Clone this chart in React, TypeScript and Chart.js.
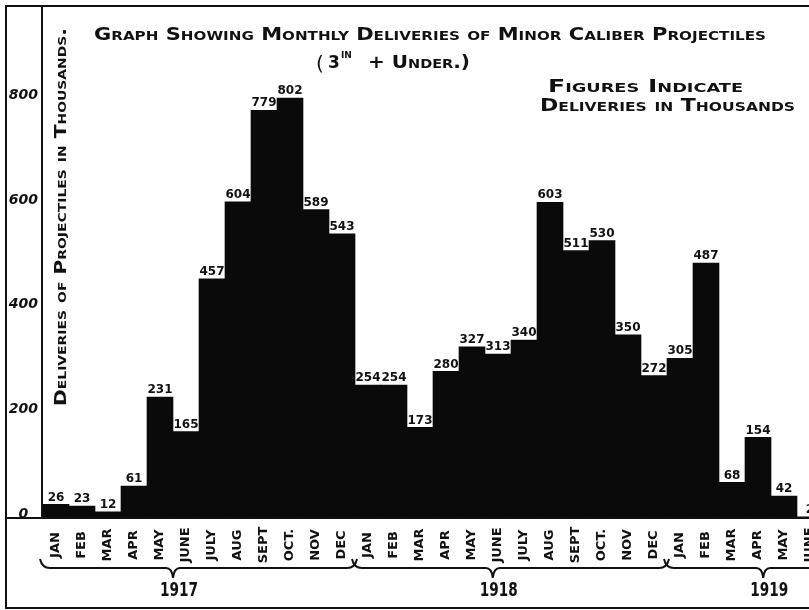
import React, { useEffect, useRef } from "react";
import { Chart, registerables } from "chart.js";

Chart.register(...registerables);

// ---- data ----
const monthLabels = [
  "JAN", "FEB", "MAR", "APR", "MAY", "JUNE", "JULY", "AUG", "SEPT", "OCT.", "NOV", "DEC",
  "JAN", "FEB", "MAR", "APR", "MAY", "JUNE", "JULY", "AUG", "SEPT", "OCT.", "NOV", "DEC",
  "JAN", "FEB", "MAR", "APR", "MAY", "JUNE",
];
const deliveries = [
  26, 23, 12, 61, 231, 165, 457, 604, 779, 802, 589, 543,
  254, 254, 173, 280, 327, 313, 340, 603, 511, 530, 350, 272,
  305, 487, 68, 154, 42, 2,
];
const yearLabels = ["1917", "1918", "1919"];
const yearFirstIndex = [0, 12, 24];
const yearLastIndex = [11, 23, 35];
const braceTipIndex = [4.5, 16.8, 27.2];
const yTickValues = [0, 200, 400, 600, 800];

const titleLine1 = "Graph Showing Monthly Deliveries of Minor Caliber Projectiles";
const noteLine1 = "Figures Indicate";
const noteLine2 = "Deliveries in Thousands";
const yAxisTitle = "Deliveries of Projectiles in Thousands.";

const FONT = '"DejaVu Sans", sans-serif';

function fitText(
  ctx: CanvasRenderingContext2D,
  text: string,
  x: number,
  y: number,
  width: number,
  font: string,
  align: CanvasTextAlign,
  smallCaps: boolean,
  rotate = 0,
  baseline: CanvasTextBaseline = "alphabetic"
) {
  ctx.save();
  ctx.font = font;
  if (smallCaps) (ctx as any).fontVariantCaps = "small-caps";
  const w = ctx.measureText(text).width || 1;
  const sx = width / w;
  ctx.translate(x, y);
  if (rotate) ctx.rotate(rotate);
  ctx.scale(sx, 1);
  ctx.textAlign = align;
  ctx.textBaseline = baseline;
  ctx.fillStyle = "#111";
  ctx.fillText(text, 0, 0);
  ctx.restore();
}

const decorPlugin = {
  id: "decor",
  beforeDraw(chart: any) {
    const ctx = chart.ctx as CanvasRenderingContext2D;
    ctx.save();
    ctx.fillStyle = "#fff";
    ctx.fillRect(0, 0, chart.width, chart.height);
    ctx.restore();
  },
  afterDraw(chart: any) {
    const ctx = chart.ctx as CanvasRenderingContext2D;
    const xScale = chart.scales.x;
    const area = chart.chartArea;
    const W = chart.width;

    // frame
    ctx.save();
    ctx.strokeStyle = "#111";
    ctx.lineWidth = 2;
    ctx.beginPath();
    ctx.moveTo(5, 6); ctx.lineTo(W, 6);
    ctx.moveTo(6, 5); ctx.lineTo(6, 609);
    ctx.moveTo(42, 6); ctx.lineTo(42, area.bottom);
    ctx.moveTo(6, area.bottom); ctx.lineTo(W, area.bottom);
    ctx.moveTo(6, 608); ctx.lineTo(W, 608);
    ctx.stroke();
    ctx.restore();

    // value labels
    const meta = chart.getDatasetMeta(0);
    ctx.save();
    ctx.font = `bold 12px ${FONT}`;
    ctx.fillStyle = "#111";
    ctx.textAlign = "center";
    ctx.textBaseline = "bottom";
    meta.data.forEach((bar: any, i: number) => {
      ctx.fillText(String(deliveries[i]), bar.x, bar.y - 1);
    });
    ctx.restore();

    // month labels (rotated)
    ctx.save();
    ctx.font = `bold 13px ${FONT}`;
    ctx.fillStyle = "#111";
    ctx.textAlign = "center";
    ctx.textBaseline = "middle";
    monthLabels.forEach((m, i) => {
      const x = xScale.getPixelForValue(i);
      ctx.save();
      ctx.translate(x, area.bottom + 27);
      ctx.rotate(-Math.PI / 2);
      ctx.fillText(m, 0, 0);
      ctx.restore();
    });
    ctx.restore();

    // braces and years
    ctx.save();
    ctx.strokeStyle = "#111";
    ctx.lineWidth = 2;
    const yLine = area.bottom + 50;
    yearLabels.forEach((yl, k) => {
      const x0 = xScale.getPixelForValue(yearFirstIndex[k] - 0.5) - 1;
      const x1 = Math.min(xScale.getPixelForValue(yearLastIndex[k] + 0.5), W + 20);
      const tip = xScale.getPixelForValue(braceTipIndex[k]);
      ctx.beginPath();
      ctx.moveTo(x0 - 2, yLine - 9);
      ctx.quadraticCurveTo(x0, yLine, x0 + 8, yLine);
      ctx.lineTo(tip - 7, yLine);
      ctx.quadraticCurveTo(tip - 1, yLine, tip, yLine + 10);
      ctx.quadraticCurveTo(tip + 1, yLine, tip + 7, yLine);
      ctx.lineTo(x1 - 8, yLine);
      ctx.quadraticCurveTo(x1, yLine, x1 + 2, yLine - 9);
      ctx.stroke();
      fitText(ctx, yl, tip + 6, yLine + 28, 38, `bold 19px ${FONT}`, "center", false);
    });
    ctx.restore();

    // titles
    fitText(ctx, titleLine1, 430, 40, 672, `bold 18px ${FONT}`, "center", true);
    ctx.save();
    ctx.fillStyle = "#111";
    ctx.textBaseline = "alphabetic";
    ctx.textAlign = "left";
    ctx.font = `20px ${FONT}`;
    ctx.fillText("(", 316, 70);
    ctx.font = `bold 17px ${FONT}`;
    ctx.fillText("3", 328, 68);
    ctx.font = `bold 9px ${FONT}`;
    ctx.fillText("IN", 341, 58);
    ctx.restore();
    fitText(ctx, "+ Under.)", 368, 68, 102, `bold 18px ${FONT}`, "left", true);

    fitText(ctx, noteLine1, 548, 92, 195, `bold 17px ${FONT}`, "left", true);
    fitText(ctx, noteLine2, 540, 111, 255, `bold 17px ${FONT}`, "left", true);

    // y axis title
    fitText(ctx, yAxisTitle, 62, 217, 378, `bold 16px ${FONT}`, "center", true, -Math.PI / 2, "middle");
  },
};

export default function App() {
  const canvasRef = useRef<HTMLCanvasElement | null>(null);

  useEffect(() => {
    const canvas = canvasRef.current;
    if (!canvas) return;
    const chart = new Chart(canvas, {
      type: "bar",
      data: {
        labels: monthLabels,
        datasets: [
          {
            data: deliveries,
            backgroundColor: "#0a0a0a",
            borderWidth: 0,
            barPercentage: 1,
            categoryPercentage: 1,
          },
        ],
      },
      options: {
        animation: false,
        responsive: false,
        devicePixelRatio: 1,
        layout: { padding: { left: 0, right: 7, top: 0, bottom: 0 } },
        plugins: {
          legend: { display: false },
          title: { display: false },
          tooltip: { enabled: false },
        },
        scales: {
          x: {
            type: "category",
            grid: { display: false, drawTicks: false },
            border: { display: false },
            ticks: { display: false },
            afterFit: (scale: any) => {
              scale.height = 92;
            },
          },
          y: {
            min: 0,
            max: 964,
            afterFit: (scale: any) => {
              scale.width = 43;
            },
            afterBuildTicks: (scale: any) => {
              scale.ticks = yTickValues.map((v) => ({ value: v }));
            },
            grid: { display: false, drawTicks: false },
            border: { display: false },
            ticks: {
              crossAlign: "center",
              padding: 5,
              labelOffset: -4,
              color: "#111",
              font: { family: FONT, size: 14, weight: "bold", style: "italic" },
            },
          },
        },
      },
      plugins: [decorPlugin],
    });
    return () => chart.destroy();
  }, []);

  return (
    <div
      style={{
        position: "fixed",
        left: 0,
        top: 0,
        width: 809,
        height: 610,
        overflow: "hidden",
        background: "#fff",
      }}
    >
      <canvas ref={canvasRef} width={830} height={610} style={{ display: "block" }} />
    </div>
  );
}
